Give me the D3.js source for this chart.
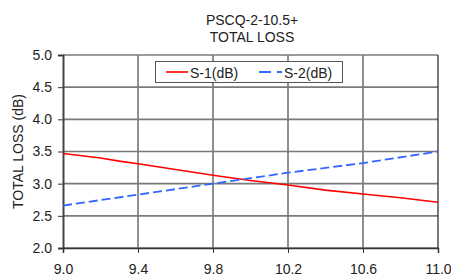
<!DOCTYPE html>
<html>
<head>
<meta charset="utf-8">
<script src="https://d3js.org/d3.v7.min.js"></script>
<style>
  body { margin: 0; background: #fff; }
  text { font-family: Arial, "Liberation Sans", sans-serif; fill: #222; }
</style>
</head>
<body>
<script>
  const freq = [9.0, 9.2, 9.3, 9.4, 9.6, 9.8, 10.0, 10.2, 10.4, 10.6, 10.8, 11.0]
  const s1 = [3.47, 3.40, 3.35, 3.31, 3.22, 3.13, 3.05, 2.98, 2.90, 2.84, 2.78, 2.71]
  const freq2 = [9.0, 9.4, 9.8, 10.2, 10.6, 11.0]
  const s2 = [2.66, 2.83, 3.00, 3.17, 3.32, 3.50]
  const xTicks = [9.0, 9.4, 9.8, 10.2, 10.6, 11.0]
  const yTicks = [2.0, 2.5, 3.0, 3.5, 4.0, 4.5, 5.0]

  const width = 451, height = 278
  const m = { left: 63, right: 13, top: 55, bottom: 30 }
  const fs = '14px'

  const svg = d3.select('body').append('svg')
      .attr('width', width)
      .attr('height', height)

  const x = d3.scaleLinear().domain([9.0, 11.0]).range([m.left, width - m.right])
  const y = d3.scaleLinear().domain([2.0, 5.0]).range([height - m.bottom, m.top])

  // grid
  svg.append('g').selectAll('line').data(xTicks.slice(1, -1)).join('line')
      .attr('x1', d => x(d)).attr('x2', d => x(d))
      .attr('y1', y(5)).attr('y2', y(2))
      .attr('stroke', '#6a6a6a').attr('stroke-width', 1.5)
  svg.append('g').selectAll('line').data(yTicks).join('line')
      .attr('x1', x(9)).attr('x2', x(11))
      .attr('y1', d => y(d)).attr('y2', d => y(d))
      .attr('stroke', '#7a7a7a').attr('stroke-width', 1.6)
  // right border
  svg.append('line')
      .attr('x1', x(11)).attr('x2', x(11)).attr('y1', y(5)).attr('y2', y(2))
      .attr('stroke', '#222').attr('stroke-width', 1.2)

  // axes
  const yAxis = svg.append('g')
      .attr('transform', `translate(${m.left},0)`)
      .call(d3.axisLeft(y).tickValues(yTicks).tickFormat(d3.format('.1f')).tickSize(5).tickPadding(6))
  const xAxis = svg.append('g')
      .attr('transform', `translate(0,${height - m.bottom})`)
      .call(d3.axisBottom(x).tickValues(xTicks).tickFormat(d3.format('.1f')).tickSize(5).tickPadding(11))
  ;[yAxis, xAxis].forEach(a => {
    a.select('.domain').attr('stroke', '#333').attr('stroke-width', 1.5)
    a.selectAll('.tick line').attr('stroke', '#333')
    a.selectAll('text').style('font-size', fs).attr('fill', '#222')
  })
  yAxis.select('.domain').attr('stroke', '#444').attr('stroke-width', 2)

  // lines
  const line = d3.line().x(d => x(d[0])).y(d => y(d[1]))
  svg.append('path')
      .datum(d3.zip(freq, s1))
      .attr('d', line)
      .attr('fill', 'none').attr('stroke', '#ff0000').attr('stroke-width', 1.6)
  svg.append('path')
      .datum(d3.zip(freq2, s2))
      .attr('d', line)
      .attr('fill', 'none').attr('stroke', '#3366ff').attr('stroke-width', 1.8)
      .attr('stroke-dasharray', '9,4')

  // legend
  const lg = svg.append('g')
  lg.append('rect')
      .attr('x', 155.5).attr('y', 61.5).attr('width', 187).attr('height', 21)
      .attr('fill', '#fff').attr('stroke', '#555')
  lg.append('line').attr('x1', 166).attr('x2', 188).attr('y1', 72).attr('y2', 72)
      .attr('stroke', '#ff0000').attr('stroke-width', 1.6)
  lg.append('text').attr('x', 190).attr('y', 78).style('font-size', fs).text('S-1(dB)')
  lg.append('line').attr('x1', 259).attr('x2', 282).attr('y1', 72).attr('y2', 72)
      .attr('stroke', '#3366ff').attr('stroke-width', 1.8).attr('stroke-dasharray', '12,6')
  lg.append('text').attr('x', 284).attr('y', 78).style('font-size', fs).text('S-2(dB)')

  // titles
  svg.append('text').attr('x', 252).attr('y', 25).attr('text-anchor', 'middle')
      .style('font-size', fs).text('PSCQ-2-10.5+')
  svg.append('text').attr('x', 252).attr('y', 42).attr('text-anchor', 'middle')
      .style('font-size', fs).text('TOTAL LOSS')
  svg.append('text')
      .attr('transform', `translate(23,${(y(2) + y(5)) / 2}) rotate(-90)`)
      .attr('text-anchor', 'middle')
      .style('font-size', fs).text('TOTAL LOSS (dB)')
</script>
</body>
</html>
